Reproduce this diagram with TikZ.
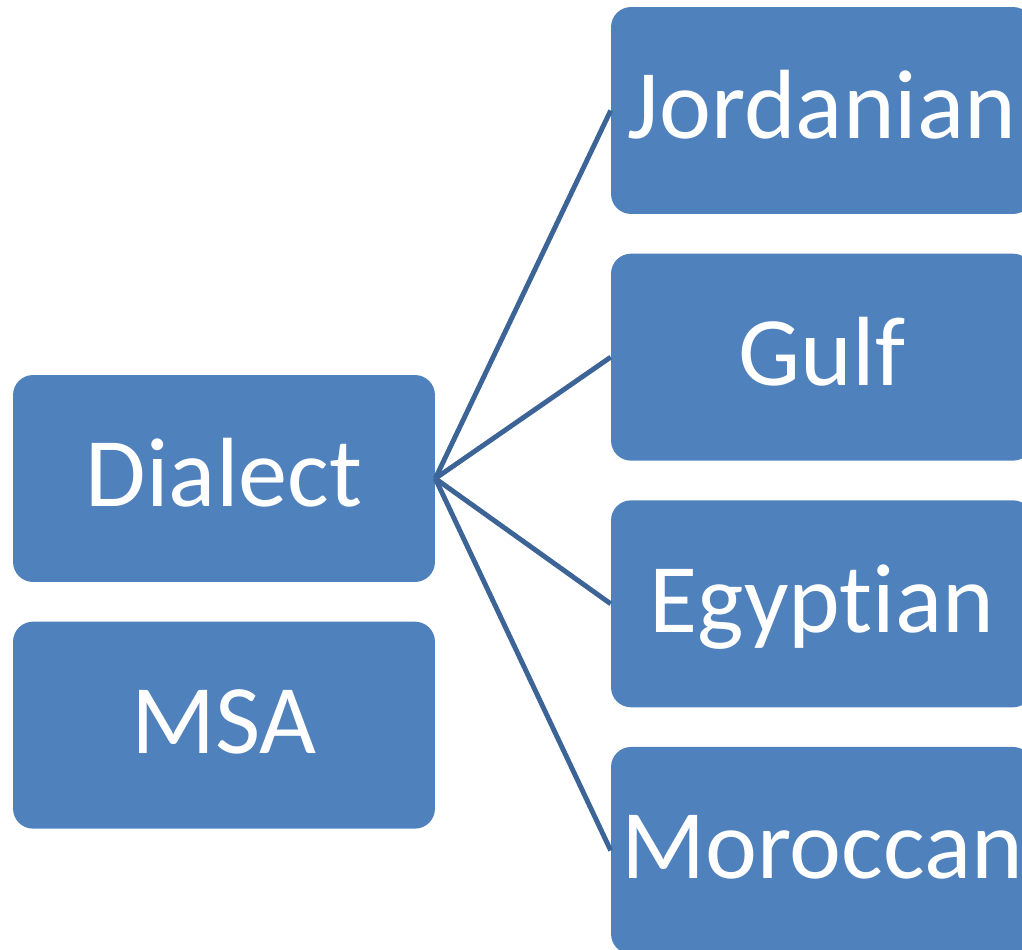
\documentclass[tikz,border=0pt]{standalone}
\usepackage{fontspec}
\setmainfont{Carlito}[Ligatures=NoCommon]
\usetikzlibrary{positioning}
\definecolor{boxblue}{HTML}{4F81BD}
\definecolor{linkblue}{HTML}{3D6497}

\begin{document}
\begin{tikzpicture}[
    x=0.02cm, y=-0.02cm,
    node distance = 0.78cm,
    block/.style={rectangle, fill=boxblue, text=white, rounded corners=0.4cm, minimum width=8.44cm, minimum height=4.14cm, inner sep=0pt, text centered, text height=1.5cm, text depth=0.36cm, font=\fontsize{56}{66}\selectfont},
    line/.style={draw=linkblue, line width=2.8pt}
    ]
    \clip (0,0) rectangle (1022,950);

    \node [block] at (224,478.5) (dialect) {Dialect};
    \node [block, below=of dialect] (msa) {MSA};
    \node [block] at (822,110.5) (jordanian) {Jordanian};
    \node [block, below=of jordanian] (gulf) {Gulf};
    \node [block, below=of gulf] (egyptian) {Egyptian};
    \node [block, below=of egyptian] (moroccan) {Moroccan};

    \path [line] (dialect.east) -- (jordanian.west);
    \path [line] (dialect.east) -- (gulf.west);
    \path [line] (dialect.east) -- (egyptian.west);
    \path [line] (dialect.east) -- (moroccan.west);
  \end{tikzpicture}
\end{document}
